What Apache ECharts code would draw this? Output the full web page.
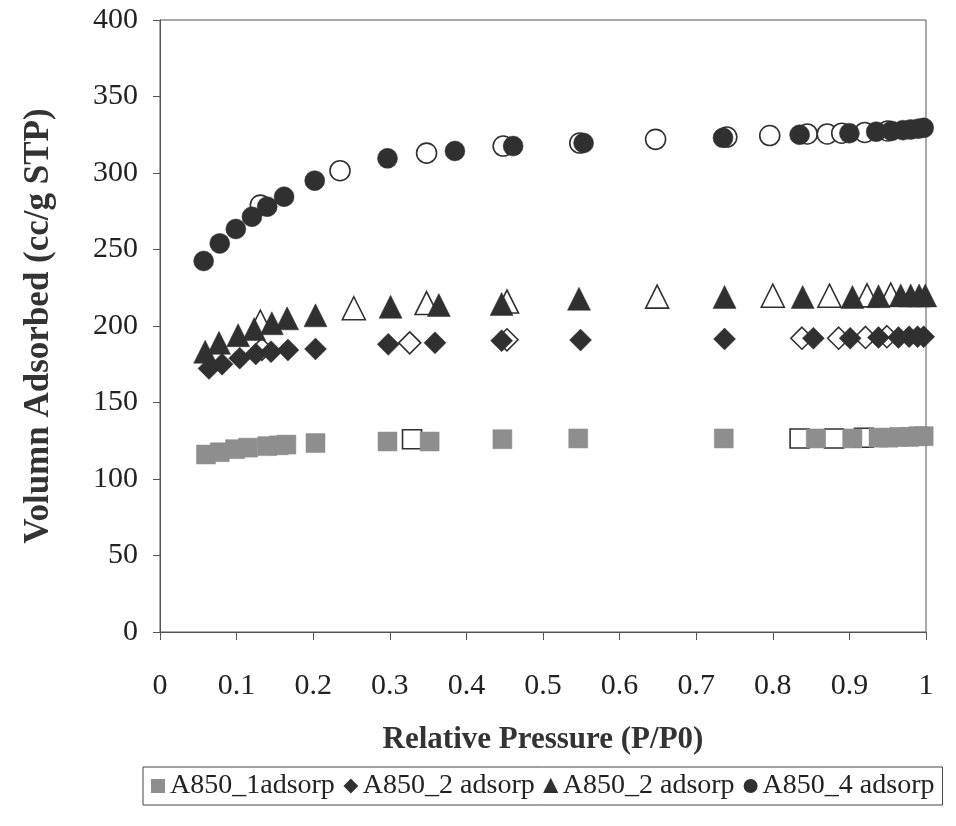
<!DOCTYPE html>
<html>
<head>
<meta charset="utf-8">
<script src="https://cdn.jsdelivr.net/npm/echarts@6.0.0/dist/echarts.min.js"></script>
<style>
  html, body { margin: 0; padding: 0; background: #ffffff; }
  #chart { width: 956px; height: 826px; }
</style>
</head>
<body>
<div id="chart"></div>
<script>
// Nitrogen isotherms: relative pressure (P/P0) vs adsorbed volume (cc/g STP)
const xTickLabels = ['0', '0.1', '0.2', '0.3', '0.4', '0.5', '0.6', '0.7', '0.8', '0.9', '1'];
const yTickLabels = ['0', '50', '100', '150', '200', '250', '300', '350', '400'];
const legendLabels = ['A850_1adsorp', 'A850_2 adsorp', 'A850_2 adsorp', 'A850_4 adsorp'];

// A850_1 (squares)
const s1AdsP = [0.060, 0.078, 0.098, 0.115, 0.140, 0.155, 0.165, 0.203, 0.297, 0.352, 0.447, 0.546, 0.736, 0.856, 0.904, 0.938, 0.951, 0.965, 0.978, 0.990, 0.997];
const s1AdsV = [116, 117.5, 119.5, 120.5, 121.5, 122, 122.5, 123.5, 124.5, 124.5, 126, 126.5, 126.5, 126.5, 126.5, 127, 127, 127.5, 127.5, 128, 128];
const s1DesP = [0.329, 0.835, 0.880, 0.919];
const s1DesV = [126, 126.5, 126.5, 127];

// A850_2 (diamonds)
const s2AdsP = [0.064, 0.081, 0.104, 0.125, 0.145, 0.167, 0.203, 0.298, 0.359, 0.446, 0.549, 0.737, 0.853, 0.901, 0.938, 0.964, 0.978, 0.989, 0.997];
const s2AdsV = [172.3, 175, 179, 181.7, 183.2, 184.3, 185, 188, 189, 190.4, 190.8, 191.5, 192, 192, 192.5, 192.5, 193, 193, 193];
const s2DesP = [0.133, 0.326, 0.453, 0.838, 0.886, 0.921, 0.949];
const s2DesV = [184.8, 189, 191, 192, 192, 192.5, 193];

// A850_3 (triangles)
const s3AdsP = [0.059, 0.077, 0.102, 0.123, 0.146, 0.166, 0.203, 0.301, 0.364, 0.446, 0.547, 0.737, 0.839, 0.904, 0.938, 0.967, 0.980, 0.991, 0.999];
const s3AdsV = [183.2, 189, 194, 198, 201.8, 205, 207, 212.6, 213.7, 214.4, 217.8, 219, 219, 219, 219.5, 220, 220, 220, 220];
const s3DesP = [0.131, 0.253, 0.348, 0.453, 0.649, 0.800, 0.874, 0.923, 0.954];
const s3DesV = [202.8, 211.6, 215, 216, 219.2, 219.8, 219.8, 220, 220.5];

// A850_4 (circles)
const s4AdsP = [0.057, 0.078, 0.099, 0.120, 0.140, 0.162, 0.202, 0.297, 0.385, 0.461, 0.553, 0.735, 0.835, 0.900, 0.935, 0.955, 0.970, 0.980, 0.990, 0.997];
const s4AdsV = [242.5, 254, 263.4, 271.4, 278, 284.5, 295, 309.6, 314.4, 317.6, 319.6, 323, 325, 326, 327, 327.5, 328, 328.5, 329, 329.5];
const s4DesP = [0.131, 0.235, 0.348, 0.448, 0.548, 0.647, 0.740, 0.796, 0.845, 0.871, 0.890, 0.920, 0.950];
const s4DesV = [279, 301.5, 313, 317.6, 319.6, 322, 323.5, 324.5, 325.5, 325.5, 326, 326.5, 327.5];

const zip = (xs, ys) => xs.map((x, i) => [x, ys[i]]);

const DARK = '#303030';
const SQUARE_GREY = '#8e8e8e';
const serifFont = '"Liberation Serif", "Times New Roman", serif';
const seriesKeys = ['A850_1 adsorp', 'A850_2 adsorp', 'A850_3 adsorp', 'A850_4 adsorp'];

function adsSeries(name, symbol, size, color, xs, ys) {
  return {
    name, type: 'scatter', symbol, symbolSize: size, z: 3,
    data: zip(xs, ys),
    itemStyle: { color, borderColor: color, borderWidth: 0.5, opacity: 1 },
    emphasis: { disabled: true }
  };
}
function desSeries(name, symbol, size, xs, ys) {
  return {
    name, type: 'scatter', symbol, symbolSize: size, z: 2,
    data: zip(xs, ys),
    itemStyle: { color: '#ffffff', borderColor: DARK, borderWidth: 1.6, opacity: 1 },
    emphasis: { disabled: true }
  };
}

const chart = echarts.init(document.getElementById('chart'), null, { renderer: 'canvas' });
chart.setOption({
  backgroundColor: '#ffffff',
  animation: false,
  textStyle: { fontFamily: serifFont },
  grid: {
    left: 160, right: 30, top: 20, bottom: 194,
    show: true, borderColor: '#555', borderWidth: 1, backgroundColor: 'transparent'
  },
  xAxis: {
    type: 'value', min: 0, max: 1, interval: 0.1,
    name: 'Relative Pressure (P/P0)', nameLocation: 'middle', nameGap: 92,
    nameTextStyle: { fontFamily: serifFont, fontWeight: 'bold', fontSize: 31, color: '#333' },
    axisLine: { show: true, onZero: false, lineStyle: { color: '#555', width: 1 } },
    axisTick: { show: true, inside: false, length: 8, lineStyle: { color: '#555' } },
    splitLine: { show: false },
    axisLabel: {
      margin: 39, fontSize: 30, color: '#222', fontFamily: serifFont,
      formatter: (v, i) => xTickLabels[i]
    }
  },
  yAxis: {
    type: 'value', min: 0, max: 400, interval: 50,
    name: 'Volumn Adsorbed (cc/g STP)', nameLocation: 'middle', nameGap: 104, nameRotate: 90,
    nameTextStyle: { fontFamily: serifFont, fontWeight: 'bold', fontSize: 35, color: '#333' },
    axisLine: { show: true, onZero: false, lineStyle: { color: '#555', width: 1 } },
    axisTick: { show: true, inside: false, length: 7, lineStyle: { color: '#555' } },
    splitLine: { show: false },
    axisLabel: {
      margin: 22, fontSize: 30, color: '#222', fontFamily: serifFont,
      formatter: (v, i) => yTickLabels[i]
    }
  },
  legend: {
    data: [
      { name: seriesKeys[0], icon: 'rect', itemStyle: { color: SQUARE_GREY } },
      { name: seriesKeys[1], icon: 'diamond' },
      { name: seriesKeys[2], icon: 'triangle' },
      { name: seriesKeys[3], icon: 'circle' }
    ],
    formatter: (name) => legendLabels[seriesKeys.indexOf(name)],
    left: 143, top: 767,
    orient: 'horizontal',
    itemWidth: 12, itemHeight: 12, itemGap: 9,
    padding: [4, 8, 4, 8],
    borderColor: '#444', borderWidth: 1,
    textStyle: { fontFamily: serifFont, fontSize: 28, lineHeight: 30, color: '#222', padding: [0, 0, 0, 1] },
    selectedMode: false
  },
  series: [
    desSeries('A850_1 desorp', 'rect', 19, s1DesP, s1DesV),
    desSeries('A850_2 desorp', 'diamond', 22, s2DesP, s2DesV),
    desSeries('A850_3 desorp', 'triangle', 23, s3DesP, s3DesV),
    desSeries('A850_4 desorp', 'circle', 20, s4DesP, s4DesV),
    adsSeries(seriesKeys[0], 'rect', 19, SQUARE_GREY, s1AdsP, s1AdsV),
    adsSeries(seriesKeys[1], 'diamond', 22, DARK, s2AdsP, s2AdsV),
    adsSeries(seriesKeys[2], 'triangle', 23, DARK, s3AdsP, s3AdsV),
    adsSeries(seriesKeys[3], 'circle', 20, DARK, s4AdsP, s4AdsV)
  ]
});
</script>
</body>
</html>
